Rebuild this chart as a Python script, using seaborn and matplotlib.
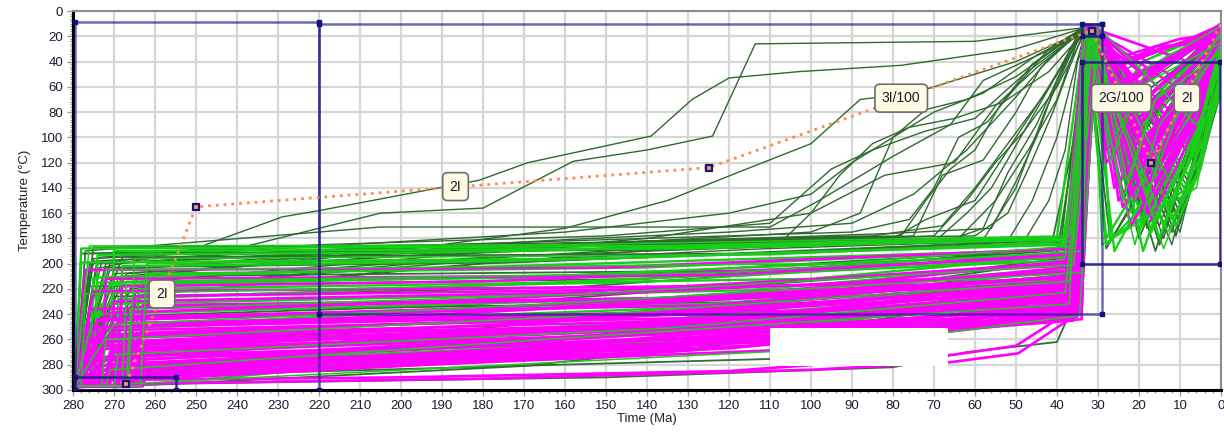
import matplotlib
matplotlib.use("Agg")
import matplotlib.pyplot as plt
import pandas as pd
import seaborn as sns
from matplotlib.patches import Rectangle
from matplotlib.ticker import MultipleLocator

# ---------------- data ----------------
START_AGE = 279.5
START_T = 297
END_AGE = 0

# good paths (magenta)
mag_th = [279.5, 273, 269.5, 279.5, 266, 271, 264.5, 277, 279.5, 268,
          275, 279.5, 267.5, 279.5, 274, 265, 279.5, 276, 263.5, 269,
          279.5, 267, 278, 272, 279.5, 270, 275.5, 264, 279.5, 268,
          271.5, 279.5, 265, 269, 276, 279.5, 267, 263, 278, 279.5,
          273, 266.5, 279.5, 268, 271, 277, 279.5, 272, 269, 274]
mag_t1 = [277, 272, 268, 275, 265, 270, 263, 276, 271, 267,
          274, 269, 266, 278, 273, 264, 270, 275, 262, 268,
          272, 266, 277, 271, 265, 269, 274, 263, 276, 267,
          270, 273, 264, 268, 275, 271, 266, 262, 277, 269,
          272, 265, 274, 267, 270, 276, 263, 271, 268, 273]
mag_T1 = [205, 212, 218, 222, 226, 230, 233, 236, 239, 242,
          245, 247, 249, 251, 253, 255, 257, 259, 261, 263,
          265, 267, 268, 270, 271, 273, 274, 276, 277, 279,
          280, 281, 283, 284, 285, 286, 287, 288, 289, 290,
          291, 292, 244, 250, 256, 262, 268, 275, 282, 288]
mag_tm = [150, 120, 180, 95, 135, 160, 110, 140, 200, 125,
          170, 100, 145, 190, 115, 155, 130, 105, 175, 140,
          120, 165, 90, 150, 135, 185, 110, 160, 125, 145,
          100, 170, 130, 155, 115, 195, 140, 120, 160, 105,
          150, 135, 180, 125, 165, 110, 145, 190, 130, 155]
mag_Tm = [203, 209, 214, 217, 220, 223, 226, 228, 231, 233,
          236, 237, 239, 240, 242, 243, 245, 246, 248, 249,
          250, 252, 252, 254, 255, 256, 257, 258, 259, 260,
          261, 262, 263, 264, 265, 265, 266, 267, 268, 268,
          269, 270, 235, 240, 244, 248, 253, 258, 262, 267]
mag_t3 = [36, 35, 37, 34.5, 36.5, 35.5, 38, 34, 36, 35,
          37, 35.5, 34, 36.5, 35, 37.5, 34.5, 36, 35, 38,
          34, 36, 35.5, 37, 34.5, 35, 36.5, 34, 37, 35.5,
          36, 34.5, 35, 37.5, 36, 34, 35.5, 36.5, 35, 37,
          34, 36, 35, 38, 34.5, 36.5, 35, 37, 34, 35.5]
mag_T3 = [188, 192, 195, 197, 199, 201, 203, 205, 207, 209,
          211, 212, 213, 214, 216, 217, 218, 219, 221, 222,
          223, 225, 226, 227, 228, 229, 230, 231, 232, 233,
          234, 235, 236, 237, 238, 239, 240, 241, 242, 243,
          244, 245, 210, 215, 218, 222, 227, 232, 236, 241]
mag_tD = [32, 31.5, 33, 30.5, 32.5, 31, 33.5, 30, 32, 31.5,
          32.5, 31, 33, 30.5, 32, 31.5, 33, 30, 32.5, 31,
          32, 33.5, 30.5, 31.5, 32, 31, 33, 30.5, 32.5, 31.5,
          32, 30, 33, 31, 32.5, 31.5, 30.5, 33, 32, 31,
          32.5, 30, 31.5, 33, 32, 31, 30.5, 32.5, 31.5, 33]
mag_TD = [14, 16, 12, 18, 15, 13, 17, 11, 19, 15,
          13, 16, 14, 18, 12, 17, 15, 13, 19, 14,
          16, 12, 18, 15, 13, 17, 14, 16, 11, 18,
          15, 13, 17, 14, 16, 12, 19, 15, 13, 17,
          14, 16, 12, 18, 15, 13, 17, 14, 16, 12]
mag_t4 = [27, 22, 16, 29, 24, 19, 12, 28, 18, 25,
          10, 21, 29, 15, 23, 17, 26, 13, 22, 8,
          27, 19, 24, 16, 29, 11, 20, 25, 17, 23,
          28, 14, 22, 18, 26, 12, 24, 19, 28, 15,
          20, 23, 13, 25, 18, 28, 21, 16, 26, 19]
mag_T4 = [60, 110, 90, 45, 130, 140, 80, 70, 160, 100,
          55, 150, 50, 120, 85, 165, 75, 100, 145, 40,
          95, 125, 65, 135, 80, 60, 115, 150, 105, 40,
          120, 95, 170, 75, 140, 70, 155, 50, 110, 130,
          90, 35, 85, 60, 115, 100, 125, 145, 45, 105]
mag_t5 = [12, 6, 4, 15, 9, 5, 3, 14, 8, 10,
          4, 7, 16, 5, 11, 6, 13, 4, 9, 3,
          12, 7, 10, 5, 15, 4, 8, 11, 6, 9,
          14, 5, 8, 6, 12, 4, 10, 7, 13, 5,
          8, 10, 4, 11, 6, 14, 9, 5, 12, 7]
mag_T5b = [35, 60, 45, 30, 80, 75, 40, 38, 95, 55,
           30, 85, 28, 65, 48, 90, 42, 55, 80, 25,
           50, 70, 36, 75, 44, 33, 64, 82, 58, 24,
           66, 52, 95, 42, 78, 40, 88, 30, 62, 72,
           50, 22, 48, 35, 64, 56, 70, 80, 28, 58]
mag_T5 = [12, 15, 10, 18, 14, 20, 11, 16, 13, 22,
          12, 17, 25, 10, 14, 19, 13, 15, 11, 21,
          16, 12, 18, 14, 10, 23, 15, 13, 17, 11,
          19, 14, 12, 16, 20, 13, 15, 11, 24, 14,
          12, 18, 16, 10, 13, 17, 15, 12, 19, 14]

# acceptable paths (bright green)
grn_th = [279.5, 271, 275, 266.5, 279.5, 269, 279.5, 263, 276, 268,
          279.5, 265, 278, 270, 279.5, 267, 277, 264, 279.5, 275,
          269, 273, 279.5, 278, 270, 276, 279.5, 272, 268, 279.5,
          267, 271, 279.5, 263.5, 275, 279.5]
grn_t1 = [276, 270, 274, 265, 278, 268, 272, 262, 275, 267,
          271, 264, 277, 269, 273, 266, 276, 263, 270, 274,
          268, 272, 265, 277, 269, 275, 263, 271, 267, 273,
          266, 270, 278, 262, 274, 268]
grn_T1 = [186, 190, 193, 196, 199, 202, 205, 208, 211, 214,
          217, 220, 224, 228, 232, 236, 240, 244, 248, 252,
          256, 260, 264, 268, 272, 276, 280, 284, 288, 292,
          295, 298, 188, 200, 215, 250]
grn_tm = [160, 130, 190, 110, 150, 175, 95, 140, 205, 120,
          165, 100, 145, 185, 115, 155, 130, 105, 170, 140,
          125, 160, 90, 150, 135, 180, 110, 165, 120, 145,
          100, 175, 135, 155, 115, 195]
grn_Tm = [185, 188, 191, 193, 196, 198, 200, 203, 205, 207,
          210, 212, 215, 218, 221, 224, 227, 230, 233, 236,
          239, 242, 245, 248, 251, 254, 257, 260, 263, 266,
          268, 270, 186, 196, 209, 238]
grn_t3 = [37, 35, 38, 36, 34.5, 37.5, 36, 35, 39, 34,
          36.5, 35.5, 38, 34.5, 37, 36, 35, 38.5, 34, 36.5,
          35, 37, 34.5, 36, 38, 35.5, 34, 37, 36, 35,
          34.5, 36.5, 40, 38, 36, 35]
grn_T3 = [178, 180, 181, 182, 184, 185, 186, 188, 189, 190,
          192, 193, 195, 197, 199, 201, 203, 205, 207, 209,
          211, 214, 217, 220, 223, 226, 229, 232, 236, 240,
          241, 243, 179, 184, 192, 212]
grn_tD = [32, 30.5, 33, 31.5, 29.5, 32.5, 31, 33.5, 30, 32,
          31.5, 30.5, 33, 31, 32.5, 30, 31.5, 33, 32, 30.5,
          31, 32.5, 33, 30, 31.5, 32, 30.5, 33.5, 31, 32,
          30, 32.5, 33, 31.5, 30.5, 32]
grn_TD = [15, 18, 12, 16, 20, 13, 17, 11, 19, 14,
          16, 12, 18, 15, 13, 17, 11, 19, 14, 16,
          12, 18, 15, 13, 17, 14, 16, 11, 19, 15,
          13, 17, 12, 18, 14, 16]
grn_t4 = [24, 20, 28, 27, 12, 26, 22, 9, 27, 25,
          19, 13, 21, 7, 17, 23, 11, 26, 14, 20,
          8, 18, 28, 16, 10, 24, 19, 13, 21, 15,
          6, 17, 25, 29, 20, 14]
grn_T4 = [150, 175, 185, 120, 165, 190, 160, 140, 180, 95,
          170, 155, 185, 110, 175, 135, 170, 70, 188, 60,
          130, 145, 180, 165, 150, 85, 190, 175, 105, 180,
          90, 160, 140, 185, 120, 170]
grn_t5 = [16, 12, 9, 20, 6, 11, 15, 4, 8, 18,
          12, 7, 14, 3, 10, 16, 5, 19, 7, 13,
          4, 11, 15, 9, 5, 17, 12, 6, 14, 8,
          3, 10, 18, 6, 13, 7]
grn_T5b = [70, 110, 120, 60, 130, 100, 90, 110, 140, 45,
           95, 115, 100, 80, 120, 70, 125, 40, 130, 35,
           100, 85, 110, 120, 115, 45, 125, 130, 60, 120,
           75, 95, 80, 140, 65, 110]
grn_T5 = [20, 35, 15, 25, 45, 18, 30, 55, 22, 12,
          40, 28, 16, 60, 24, 33, 50, 14, 38, 20,
          65, 26, 18, 42, 30, 15, 35, 48, 22, 27,
          70, 32, 19, 44, 25, 36]

# acceptable paths (dark green)
dk_t1 = [275, 268, 272, 264, 277, 270, 266, 273, 262, 276,
         269, 271, 265, 274, 267, 278, 263, 270, 272, 268]
dk_T1 = [187, 195, 203, 210, 218, 226, 234, 242, 250, 258,
         266, 274, 282, 290, 297, 192, 215, 238, 262, 285]
dk_tm = [150, 120, 175, 100, 140, 160, 115, 185, 130, 95,
         165, 125, 145, 105, 170, 135, 155, 110, 180, 140]
dk_Tm = [185, 192, 199, 205, 212, 219, 226, 233, 240, 247,
         254, 261, 268, 275, 281, 189, 210, 230, 251, 270]
dk_t3 = [38, 36, 39, 35, 37, 40, 36.5, 35, 38, 34.5,
         37, 36, 39, 35.5, 38, 41, 36, 37.5, 35, 36]
dk_T3 = [179, 181, 183, 186, 189, 192, 195, 199, 203, 207,
         212, 217, 222, 228, 235, 180, 188, 197, 208, 222]
dk_tD = [32, 31, 33, 30.5, 32.5, 31.5, 33.5, 30, 32, 31,
         32.5, 30.5, 33, 31.5, 32, 30, 33, 31, 32.5, 31.5]
dk_TD = [16, 13, 18, 12, 15, 19, 14, 17, 11, 16,
         13, 18, 15, 12, 17, 14, 19, 13, 16, 15]
dk_t4 = [20, 14, 24, 9, 28, 22, 12, 5, 19, 15,
         26, 11, 21, 7, 16, 23, 27, 18, 10, 25]
dk_T4 = [180, 170, 150, 160, 188, 130, 175, 125, 165, 185,
         100, 178, 160, 140, 190, 110, 182, 172, 168, 80]
dk_T5 = [25, 40, 18, 55, 30, 20, 45, 60, 28, 35,
         15, 50, 22, 65, 32, 16, 42, 26, 48, 19]

# early-cooling acceptable paths (dark green)
early_ages = [
    [279.5, 276, 251, 229, 220, 181, 169, 139, 129, 120, 103, 78, 50, 34, 22, 0],
    [279.5, 272, 250, 205, 180, 158, 140, 124, 113.6, 60, 33, 18, 0],
    [279.5, 268, 230, 190, 160, 135, 118, 100, 88, 75, 50, 33, 24, 0],
    [279.5, 274, 220, 150, 110, 95, 85, 72, 60, 48, 34, 15, 0],
    [279.5, 265, 205, 140, 100, 82, 65, 55, 45, 33, 20, 0],
    [279.5, 270, 210, 160, 120, 90, 75, 62, 50, 42, 34, 12, 0],
    [279.5, 277, 205, 110, 98, 80, 66, 58, 36, 32, 25, 0],
    [279.5, 263, 200, 150, 105, 70, 62, 55, 48, 40, 33, 10, 0],
    [279.5, 271, 190, 130, 85, 68, 60, 52, 44, 38, 33, 18, 0],
    [279.5, 275, 240, 160, 120, 100, 90, 80, 70, 58, 45, 33, 22, 0],
    [279.5, 267, 180, 115, 80, 56, 50, 45, 40, 34, 8, 0],
    [279.5, 273, 200, 120, 90, 76, 70, 64, 57, 50, 42, 33, 26, 0],
    [279.5, 269, 210, 150, 100, 88, 80, 72, 62, 50, 34, 17, 0],
    [279.5, 276, 230, 160, 100, 60, 52, 46, 41, 37, 33, 14, 0],
    [279.5, 266, 190, 140, 108, 100, 93, 85, 76, 65, 53, 42, 33, 20, 0],
    [279.5, 271, 200, 140, 78, 72, 66, 60, 54, 46, 34, 6, 0],
    [279.5, 274, 200, 100, 64, 55, 47, 40, 34, 20, 0],
    [279.5, 268, 180, 90, 58, 50, 43, 34, 16, 0],
    [279.5, 272, 210, 120, 70, 62, 56, 48, 40, 34, 24, 0],
    [279.5, 266, 190, 110, 52, 46, 40, 36, 33, 10, 0],
    [279.5, 275, 220, 140, 80, 72, 60, 50, 42, 34, 18, 0],
    [279.5, 270, 200, 130, 66, 58, 52, 45, 38, 33, 12, 0],
    [279.5, 277, 230, 150, 90, 75, 68, 58, 50, 44, 35, 26, 0],
    [279.5, 264, 180, 100, 48, 42, 38, 35, 32, 8, 0],
]
early_temps = [
    [298, 205, 189, 163, 158, 134, 120, 99, 70, 53, 48, 43, 30, 14, 80, 20],
    [297, 200, 196, 160, 156, 119, 110, 99, 26, 24, 13, 150, 30],
    [296, 210, 200, 185, 172, 150, 128, 105, 70, 65, 40, 15, 110, 18],
    [298, 195, 185, 178, 168, 125, 110, 95, 85, 50, 16, 170, 35],
    [297, 215, 198, 180, 160, 130, 120, 75, 45, 14, 140, 25],
    [298, 205, 190, 181, 175, 168, 145, 110, 68, 38, 13, 160, 22],
    [298, 190, 171, 171, 150, 115, 90, 55, 22, 15, 90, 12],
    [296, 225, 205, 192, 182, 178, 150, 120, 95, 60, 16, 175, 40],
    [298, 200, 188, 181, 178, 170, 140, 105, 70, 40, 14, 165, 18],
    [297, 196, 190, 175, 160, 145, 120, 100, 80, 65, 35, 15, 120, 15],
    [298, 208, 190, 180, 176, 172, 135, 100, 55, 17, 150, 45],
    [298, 198, 186, 178, 175, 165, 140, 100, 88, 60, 30, 12, 60, 14],
    [297, 212, 192, 184, 175, 160, 100, 78, 70, 52, 15, 145, 28],
    [298, 200, 193, 185, 180, 178, 160, 118, 80, 45, 13, 180, 32],
    [298, 220, 198, 188, 185, 160, 130, 105, 92, 85, 72, 48, 15, 100, 20],
    [297, 205, 190, 182, 178, 150, 125, 110, 75, 42, 14, 120, 55],
    [298, 200, 190, 182, 180, 150, 110, 70, 14, 150, 20],
    [297, 215, 195, 184, 181, 140, 80, 15, 170, 30],
    [298, 205, 193, 186, 183, 160, 140, 95, 50, 13, 70, 15],
    [297, 220, 200, 188, 182, 150, 100, 50, 15, 165, 40],
    [298, 198, 189, 183, 180, 165, 150, 100, 60, 16, 130, 22],
    [298, 208, 194, 185, 181, 172, 128, 90, 40, 14, 185, 35],
    [298, 192, 187, 183, 180, 178, 130, 118, 80, 45, 18, 50, 12],
    [296, 225, 200, 190, 182, 150, 110, 40, 15, 140, 50],
]

# deep outliers passing under the constraint box
low_mag_ages = [[279.5, 270, 200, 120, 65, 50, 38, 33, 20, 0],
                [279.5, 265, 180, 100, 66, 49.5, 36, 32, 15, 0]]
low_mag_temps = [[298, 292, 290, 285, 272, 265, 240, 16, 90, 15],
                 [298, 295, 291, 284, 278, 271, 242, 14, 120, 12]]
low_dk_ages = [[279.5, 275, 150, 80, 62, 40, 37, 31, 10, 0]]
low_dk_temps = [[298, 296, 290, 282, 270, 262, 240, 15, 160, 30]]

# constraint boxes: (old age, young age, low T, high T)
box_old = [279.5, 220, 279.5, 34, 34]
box_young = [220, 29, 255, 29, 0.3]
box_tlow = [9, 10, 290, 10, 40]
box_thigh = [300, 240, 300, 20, 200]
box_alpha = [0.65, 0.65, 0.9, 0.95, 0.9]

# design path (dotted orange)
design_ages = [267, 250, 125, 31.5, 17, 0]
design_temps = [295, 155, 124, 15.5, 120, 10]

label_text = ["2I", "2I", "3I/100", "2G/100", "2I"]
label_age = [258.3, 186.7, 78, 24.3, 8.3]
label_temp = [224, 139, 69, 69, 69]

# ---------------- build long table ----------------
rows = []


def add_path(group, pid, ages, temps):
    for k, (a, t) in enumerate(zip(ages, temps)):
        rows.append((group, pid, k, a, t))


for i in range(len(dk_t1)):
    add_path("dark", f"d{i}",
             [START_AGE, dk_t1[i], dk_tm[i], dk_t3[i], dk_tD[i], dk_t4[i], END_AGE],
             [START_T, dk_T1[i], dk_Tm[i], dk_T3[i], dk_TD[i], dk_T4[i], dk_T5[i]])
for i, (a, t) in enumerate(zip(low_dk_ages, low_dk_temps)):
    add_path("dark", f"ld{i}", a, t)
for i, (a, t) in enumerate(zip(early_ages, early_temps)):
    add_path("early", f"e{i}", a, t)
for i in range(len(grn_t1)):
    grp = "green_over" if i % 3 == 0 else "green"
    add_path(grp, f"g{i}",
             [START_AGE, grn_th[i], grn_t1[i], grn_tm[i], grn_t3[i], grn_tD[i],
              grn_t4[i], grn_t5[i], END_AGE],
             [START_T, START_T, grn_T1[i], grn_Tm[i], grn_T3[i], grn_TD[i],
              grn_T4[i], grn_T5b[i], grn_T5[i]])
for i in range(len(mag_t1)):
    add_path("magenta", f"m{i}",
             [START_AGE, mag_th[i], mag_t1[i], mag_tm[i], mag_t3[i], mag_tD[i],
              mag_t4[i], mag_t5[i], END_AGE],
             [START_T, START_T, mag_T1[i], mag_Tm[i], mag_T3[i], mag_TD[i],
              mag_T4[i], mag_T5b[i], mag_T5[i]])
for i, (a, t) in enumerate(zip(low_mag_ages, low_mag_temps)):
    add_path("magenta", f"lm{i}", a, t)

df = pd.DataFrame(rows, columns=["group", "path", "order", "age", "temp"])

# ---------------- plot ----------------
sns.set_theme(style="white")
plt.rcParams["font.family"] = ["Liberation Sans", "DejaVu Sans"]

fig = plt.figure(figsize=(12.24, 4.32), dpi=100)
ax = fig.add_axes([73 / 1224, 1 - 390 / 432, (1221 - 73) / 1224, (390 - 11) / 432])

colors = {"early": "#2e6a2e", "dark": "#2f7030", "green": "#16d016",
          "magenta": "#ff00ff", "green_over": "#1fc81f"}
widths = {"early": 1.0, "dark": 1.3, "green": 1.7, "magenta": 1.9, "green_over": 1.1}
for grp in ["early", "dark", "green", "magenta", "green_over"]:
    sub = df[df["group"] == grp]
    sns.lineplot(data=sub, x="age", y="temp", units="path", estimator=None, sort=False,
                 color=colors[grp], lw=widths[grp], legend=False, ax=ax, zorder=2)

# white patch (blank region in the reference)
ax.add_patch(Rectangle((66.5, 251), 43.5, 30, fc="white", ec="none", zorder=3))

# constraint boxes
for o, y, lo, hi, al in zip(box_old, box_young, box_tlow, box_thigh, box_alpha):
    ax.add_patch(Rectangle((y, lo), o - y, hi - lo, fill=False, ec="#1c1c8c",
                           lw=1.8, alpha=al, zorder=4))
    ax.plot([o, y, o, y], [lo, lo, hi, hi], ls="none", marker="s", ms=3.2,
            color="#12127a", zorder=5)

# design path
ax.plot(design_ages, design_temps, ls=(0, (1, 1.8)), color="#ff8a4c", lw=2.0, zorder=5)
ax.plot(design_ages[:-1], design_temps[:-1], ls="none", marker="s", ms=5,
        mfc="#ff9a5c", mec="#14147a", mew=1.6, zorder=6)

for txt, a, t in zip(label_text, label_age, label_temp):
    ax.text(a, t, txt, ha="center", va="center", fontsize=10, color="#1a1a2a", zorder=7,
            bbox=dict(boxstyle="round,pad=0.5,rounding_size=0.35", fc="#fdf9e2",
                      ec="#6e6e6e", lw=1.2))

# axes styling
ax.set_xlim(280, 0)
ax.set_ylim(300, 0)
ax.xaxis.set_major_locator(MultipleLocator(10))
ax.xaxis.set_minor_locator(MultipleLocator(2))
ax.yaxis.set_major_locator(MultipleLocator(20))
ax.yaxis.set_minor_locator(MultipleLocator(2))
ax.grid(True, which="major", color="#d6d6d6", lw=1.6)
ax.set_axisbelow(True)
ax.tick_params(which="both", bottom=True, left=True, direction="out", color="#9a9a9a",
               labelsize=9.5, labelcolor="#1c1c30", width=1)
ax.tick_params(which="major", length=4, pad=3)
ax.tick_params(which="minor", length=2.5)
for s in ("left", "bottom"):
    ax.spines[s].set_color("black")
    ax.spines[s].set_linewidth(2.2)
for s in ("top", "right"):
    ax.spines[s].set_color("#8c8c8c")
    ax.spines[s].set_linewidth(1.5)

ax.set_xlabel("Time (Ma)", fontsize=9.5, labelpad=1, color="#222222")
ax.set_ylabel("Temperature (°C)", fontsize=9.5, labelpad=7, color="#222222")

fig.savefig("out.png", dpi=100)
